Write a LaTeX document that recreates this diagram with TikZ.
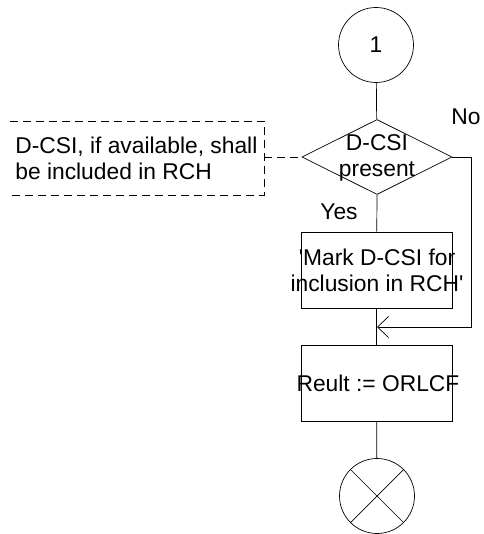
\documentclass[tikz,border=0pt]{standalone}
\usepackage{fontspec}
\setmainfont{Liberation Sans}
\usetikzlibrary{shapes.geometric,arrows.meta}

\begin{document}
\begin{tikzpicture}[x=1pt,y=-1pt,line width=0.7pt,
  every node/.style={font=\fontsize{22.8}{26}\selectfont, inner sep=0pt},
  flowbox/.style={draw, rectangle, minimum width=151pt, minimum height=76pt},
  connector/.style={draw, circle, minimum size=75pt},
  decision/.style={draw, diamond, minimum width=150pt, minimum height=75pt},
  note/.style={dash pattern=on 8pt off 5pt},
  barb/.style={-{Straight Barb[length=11pt,width=21pt]}}]
  \useasboundingbox (0,0) rectangle (483,534);
  \node[connector] (start) at (376,45) {1};
  \node[decision] (test) at (377,157) {};
  \node[align=center] (testtext) at (377,158) {D-CSI\\present};
  \node[flowbox] (mark) at (376.5,270) {};
  \node[align=center] (marktext) at (377,270) {\textquotesingle Mark D-CSI for\\inclusion in RCH\textquotesingle};
  \node[flowbox] (result) at (376.5,383.5) {};
  \node (resulttext) at (378,383.5) {Reult := ORLCF};
  \node[connector] (stop) at (377,496) {};
  \draw (stop.north west) -- (stop.south east);
  \draw (stop.north east) -- (stop.south west);
  % comment
  \node[align=left, anchor=west] (remark) at (15,158) {D-CSI, if available, shall\\be included in RCH};
  \coordinate (remarktl) at (10,121);
  \coordinate (remarktr) at (264,121);
  \coordinate (remarkbr) at (264,195);
  \coordinate (remarkbl) at (10,195);
  \coordinate (remarkr) at (264,157);
  \draw[note] (remarktl) -- (remarktr) -- (remarkbr) -- (remarkbl);
  \draw[note] (remarkr) -- (test.west);
  % flow
  \node (yes) at (339,212) {Yes};
  \node (no) at (466,117) {No};
  \coordinate (noturn) at (471,157);
  \coordinate (merge) at (377,327);
  \draw (start) -- (test);
  \draw (test.south) -- (mark);
  \draw (mark) -- (result);
  \draw (result) -- (stop);
  \draw[barb] (test.east) -- (noturn) |- (merge);
\end{tikzpicture}
\end{document}
